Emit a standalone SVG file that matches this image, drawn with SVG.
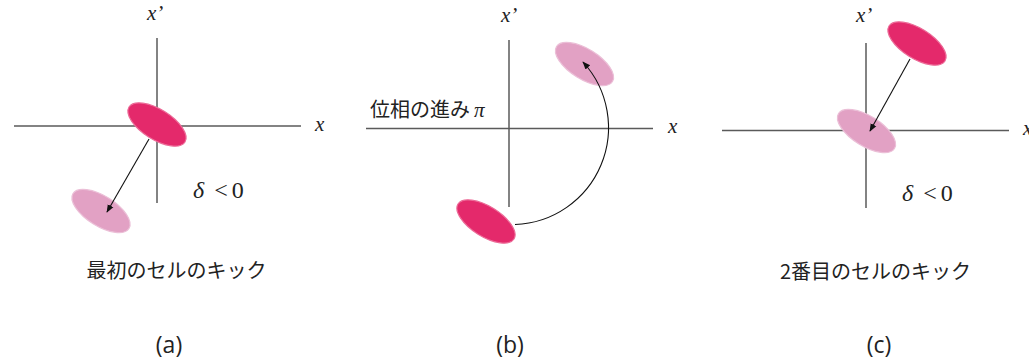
<svg xmlns="http://www.w3.org/2000/svg" width="1029" height="361" viewBox="0 0 1029 361">
  <defs>
    <marker id="ah" viewBox="0 0 10 10" refX="9" refY="5" markerWidth="8" markerHeight="8" markerUnits="userSpaceOnUse" orient="auto">
      <path d="M0,1 L10,5 L0,9 Z" fill="#111"/>
    </marker>
    <style>
      .axis{stroke:#5a5a5a;stroke-width:1.5;fill:none}
      .dark{fill:#E4296B;stroke:#EC6A97;stroke-width:1.2}
      .light{fill:#E2A1C4;stroke:#EBBFD7;stroke-width:1.2}
      .conn{stroke:#111;stroke-width:1.1;fill:none;marker-end:url(#ah)}
      .var{font-family:"Liberation Serif",serif;font-style:italic;font-size:21px;fill:#222}
      .math{font-family:"Liberation Serif",serif;font-size:24px;fill:#222}
      .jp{font-family:"Noto Sans CJK JP","Noto Sans",sans-serif;font-size:20px;fill:#222}
      .cap{font-family:"Open Sans","Noto Sans",sans-serif;font-size:23px;fill:#222}
    </style>
  </defs>

  <!-- Panel (a) -->
  <g id="panel-a-axes">
    <line class="axis" x1="14" y1="126" x2="301" y2="126"/>
    <line class="axis" x1="157" y1="38" x2="157" y2="203"/>
    <text class="var" x="147" y="20">x’</text>
    <text class="var" x="315" y="131">x</text>
  </g>
  <g id="a-dark"><ellipse class="dark" cx="157" cy="124.5" rx="33" ry="15" transform="rotate(32 157 124.5)"/></g>
  <g id="a-light"><ellipse class="light" cx="101" cy="211" rx="33" ry="15" transform="rotate(32 101 211)"/></g>
  <g id="a-labels">
    <text class="math" x="193" y="198"><tspan font-style="italic">δ</tspan><tspan dx="10">&lt;</tspan><tspan dx="4">0</tspan></text>
    <text class="jp" x="176.5" y="278" text-anchor="middle">最初のセルのキック</text>
    <text class="cap" x="169" y="353" text-anchor="middle">(a)</text>
  </g>

  <!-- Panel (b) -->
  <g id="panel-b-axes">
    <line class="axis" x1="366" y1="128.5" x2="653" y2="128.5"/>
    <line class="axis" x1="509" y1="40" x2="509" y2="207"/>
    <text class="var" x="501" y="22">x’</text>
    <text class="var" x="668" y="133">x</text>
  </g>
  <g id="b-light"><ellipse class="light" cx="584.5" cy="64" rx="33" ry="15" transform="rotate(32 584.5 64)"/></g>
  <g id="b-dark"><ellipse class="dark" cx="486" cy="221.5" rx="33" ry="15" transform="rotate(32 486 221.5)"/></g>
  <g id="b-labels">
    <text class="jp" x="370" y="117">位相の進み<tspan class="var" dx="4" font-size="22">π</tspan></text>
    <text class="cap" x="510" y="353" text-anchor="middle">(b)</text>
  </g>

  <!-- Panel (c) -->
  <g id="panel-c-axes">
    <line class="axis" x1="722" y1="130.5" x2="1009" y2="130.5"/>
    <line class="axis" x1="866" y1="43" x2="866" y2="208"/>
    <text class="var" x="856" y="22">x’</text>
    <text class="var" x="1023" y="135">x</text>
  </g>
  <g id="c-dark"><ellipse class="dark" cx="917" cy="43.5" rx="33" ry="15" transform="rotate(32 917 43.5)"/></g>
  <g id="c-light"><ellipse class="light" cx="866.5" cy="131" rx="33" ry="15" transform="rotate(32 866.5 131)"/></g>
  <g id="c-labels">
    <text class="math" x="902" y="201"><tspan font-style="italic">δ</tspan><tspan dx="10">&lt;</tspan><tspan dx="4">0</tspan></text>
    <text class="jp" x="875.5" y="279" text-anchor="middle">2番目のセルのキック</text>
    <text class="cap" x="879" y="353" text-anchor="middle">(c)</text>
  </g>

  <!-- Connectors -->
  <g id="connectors">
    <line class="conn" x1="149" y1="139" x2="107" y2="212"/>
    <path class="conn" d="M515,224.5 A97,97 0 0 0 583,62"/>
    <line class="conn" x1="910" y1="59" x2="870" y2="131"/>
  </g>
</svg>
